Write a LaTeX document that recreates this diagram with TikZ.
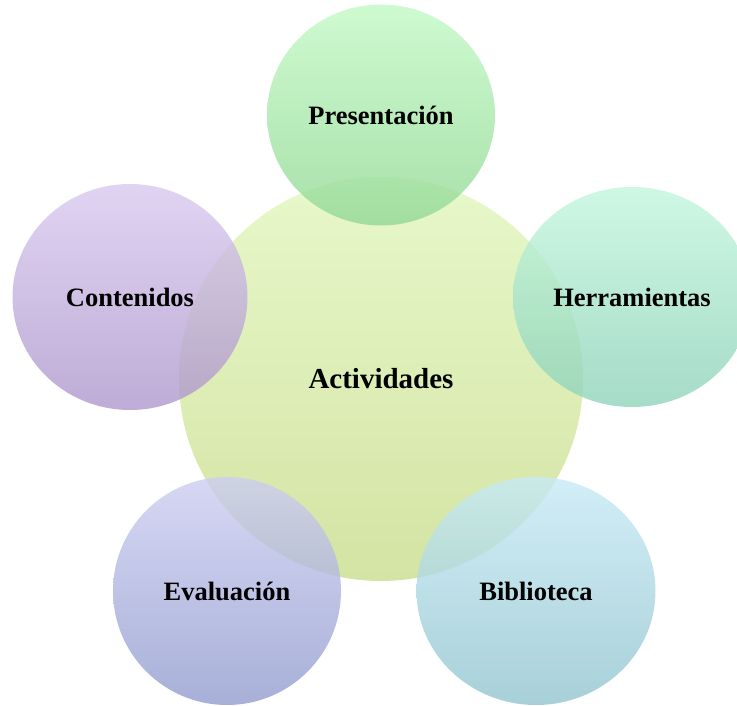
\documentclass[tikz,border=0pt]{standalone}
\usepackage{fontspec}
\setmainfont{Liberation Serif}
\usetikzlibrary{shapes.geometric}

\definecolor{actTop}{RGB}{225,246,189}
\definecolor{actBot}{RGB}{201,221,140}
\definecolor{preTop}{RGB}{194,249,196}
\definecolor{preBot}{RGB}{146,216,149}
\definecolor{herTop}{RGB}{194,246,221}
\definecolor{herBot}{RGB}{143,211,186}
\definecolor{conTop}{RGB}{216,201,239}
\definecolor{conBot}{RGB}{174,151,204}
\definecolor{evaTop}{RGB}{204,206,241}
\definecolor{evaBot}{RGB}{146,156,206}
\definecolor{bibTop}{RGB}{199,234,246}
\definecolor{bibBot}{RGB}{146,196,206}

\tikzset{
  bubble/.style={ellipse, inner sep=0pt, fill opacity=0.8, text opacity=1,
    font=\fontsize{26.5}{30}\selectfont\bfseries},
}

\begin{document}
\begin{tikzpicture}[x=1pt,y=1pt]
\useasboundingbox (0,0) rectangle (737,706);
\node[bubble, minimum width=404pt, minimum height=404pt, top color=actTop, bottom color=actBot,
  font=\fontsize{29}{32}\selectfont\bfseries] (act) at (381,327) {Actividades};
\node[bubble, minimum width=228pt, minimum height=221pt, top color=preTop, bottom color=preBot] (pre) at (381,591) {Presentación};
\node[bubble, minimum width=238pt, minimum height=220pt, top color=herTop, bottom color=herBot] (her) at (632,409) {Herramientas};
\node[bubble, minimum width=235pt, minimum height=226pt, top color=conTop, bottom color=conBot] (con) at (130,409) {Contenidos};
\node[bubble, minimum width=228pt, minimum height=228pt, top color=evaTop, bottom color=evaBot] (eva) at (227,115) {Evaluación};
\node[bubble, minimum width=239pt, minimum height=228pt, top color=bibTop, bottom color=bibBot] (bib) at (536,115) {Biblioteca};
\end{tikzpicture}
\end{document}
